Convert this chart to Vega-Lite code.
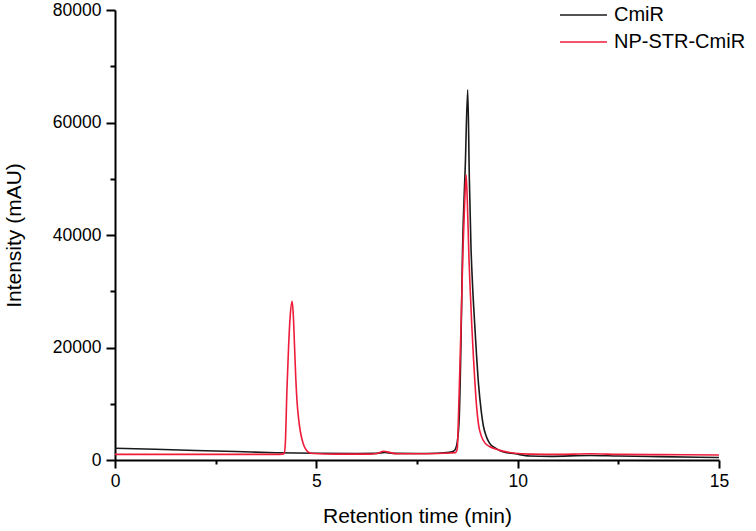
{
  "$schema": "https://vega.github.io/schema/vega-lite/v6.json",
  "width": 604,
  "height": 450,
  "autosize": {"type": "none"},
  "padding": {"left": 115, "top": 10, "right": 37, "bottom": 71},
  "background": "white",
  "config": {
    "view": {"stroke": null},
    "font": "Liberation Sans",
    "axis": {
      "grid": false,
      "domainColor": "#000000",
      "domainWidth": 2,
      "tickColor": "#000000",
      "tickWidth": 2,
      "labelColor": "#000000",
      "labelFont": "Liberation Sans",
      "labelFontSize": 17.5,
      "titleColor": "#000000",
      "titleFont": "Liberation Sans",
      "titleFontSize": 21,
      "titleFontWeight": "normal"
    }
  },
  "data": {
    "values": [
      {"t": 0, "y": 2100, "s": "CmiR"},
      {"t": 1, "y": 1900, "s": "CmiR"},
      {"t": 2, "y": 1700, "s": "CmiR"},
      {"t": 3, "y": 1500, "s": "CmiR"},
      {"t": 4, "y": 1300, "s": "CmiR"},
      {"t": 5, "y": 1200, "s": "CmiR"},
      {"t": 6, "y": 1150, "s": "CmiR"},
      {"t": 6.5, "y": 1180, "s": "CmiR"},
      {"t": 6.7, "y": 1350, "s": "CmiR"},
      {"t": 6.9, "y": 1180, "s": "CmiR"},
      {"t": 7.5, "y": 1150, "s": "CmiR"},
      {"t": 8.0, "y": 1200, "s": "CmiR"},
      {"t": 8.3, "y": 1350, "s": "CmiR"},
      {"t": 8.4, "y": 1550, "s": "CmiR"},
      {"t": 8.45, "y": 1900, "s": "CmiR"},
      {"t": 8.5, "y": 3200, "s": "CmiR"},
      {"t": 8.55, "y": 7700, "s": "CmiR"},
      {"t": 8.59, "y": 20000, "s": "CmiR"},
      {"t": 8.63, "y": 37000, "s": "CmiR"},
      {"t": 8.7, "y": 52500, "s": "CmiR"},
      {"t": 8.76, "y": 65800, "s": "CmiR"},
      {"t": 8.8, "y": 50000, "s": "CmiR"},
      {"t": 8.84, "y": 38000, "s": "CmiR"},
      {"t": 8.88, "y": 31000, "s": "CmiR"},
      {"t": 8.93, "y": 24500, "s": "CmiR"},
      {"t": 8.98, "y": 18500, "s": "CmiR"},
      {"t": 9.03, "y": 13300, "s": "CmiR"},
      {"t": 9.09, "y": 9000, "s": "CmiR"},
      {"t": 9.15, "y": 6000, "s": "CmiR"},
      {"t": 9.22, "y": 4200, "s": "CmiR"},
      {"t": 9.3, "y": 3000, "s": "CmiR"},
      {"t": 9.45, "y": 2100, "s": "CmiR"},
      {"t": 9.61, "y": 1500, "s": "CmiR"},
      {"t": 9.94, "y": 1100, "s": "CmiR"},
      {"t": 10.3, "y": 700, "s": "CmiR"},
      {"t": 10.8, "y": 650, "s": "CmiR"},
      {"t": 11.8, "y": 800, "s": "CmiR"},
      {"t": 12.5, "y": 700, "s": "CmiR"},
      {"t": 13.5, "y": 600, "s": "CmiR"},
      {"t": 14.5, "y": 500, "s": "CmiR"},
      {"t": 15, "y": 450, "s": "CmiR"},
      {"t": 0, "y": 1000, "s": "NP-STR-CmiR"},
      {"t": 1, "y": 1000, "s": "NP-STR-CmiR"},
      {"t": 2, "y": 1000, "s": "NP-STR-CmiR"},
      {"t": 3, "y": 1000, "s": "NP-STR-CmiR"},
      {"t": 4, "y": 1000, "s": "NP-STR-CmiR"},
      {"t": 4.15, "y": 1050, "s": "NP-STR-CmiR"},
      {"t": 4.2, "y": 1150, "s": "NP-STR-CmiR"},
      {"t": 4.23, "y": 3000, "s": "NP-STR-CmiR"},
      {"t": 4.27, "y": 12500, "s": "NP-STR-CmiR"},
      {"t": 4.31, "y": 20000, "s": "NP-STR-CmiR"},
      {"t": 4.35, "y": 25500, "s": "NP-STR-CmiR"},
      {"t": 4.4, "y": 28200, "s": "NP-STR-CmiR"},
      {"t": 4.43, "y": 25500, "s": "NP-STR-CmiR"},
      {"t": 4.46, "y": 20000, "s": "NP-STR-CmiR"},
      {"t": 4.49, "y": 14500, "s": "NP-STR-CmiR"},
      {"t": 4.52, "y": 10500, "s": "NP-STR-CmiR"},
      {"t": 4.56, "y": 7300, "s": "NP-STR-CmiR"},
      {"t": 4.6, "y": 5200, "s": "NP-STR-CmiR"},
      {"t": 4.65, "y": 3500, "s": "NP-STR-CmiR"},
      {"t": 4.7, "y": 2400, "s": "NP-STR-CmiR"},
      {"t": 4.76, "y": 1700, "s": "NP-STR-CmiR"},
      {"t": 4.83, "y": 1300, "s": "NP-STR-CmiR"},
      {"t": 4.93, "y": 1150, "s": "NP-STR-CmiR"},
      {"t": 5.5, "y": 1050, "s": "NP-STR-CmiR"},
      {"t": 6.3, "y": 1050, "s": "NP-STR-CmiR"},
      {"t": 6.5, "y": 1150, "s": "NP-STR-CmiR"},
      {"t": 6.67, "y": 1550, "s": "NP-STR-CmiR"},
      {"t": 6.85, "y": 1300, "s": "NP-STR-CmiR"},
      {"t": 7.0, "y": 1100, "s": "NP-STR-CmiR"},
      {"t": 7.5, "y": 1100, "s": "NP-STR-CmiR"},
      {"t": 8.0, "y": 1150, "s": "NP-STR-CmiR"},
      {"t": 8.33, "y": 1250, "s": "NP-STR-CmiR"},
      {"t": 8.45, "y": 1300, "s": "NP-STR-CmiR"},
      {"t": 8.5, "y": 2000, "s": "NP-STR-CmiR"},
      {"t": 8.53, "y": 7700, "s": "NP-STR-CmiR"},
      {"t": 8.6, "y": 25500, "s": "NP-STR-CmiR"},
      {"t": 8.64, "y": 37000, "s": "NP-STR-CmiR"},
      {"t": 8.68, "y": 45000, "s": "NP-STR-CmiR"},
      {"t": 8.72, "y": 50700, "s": "NP-STR-CmiR"},
      {"t": 8.75, "y": 46000, "s": "NP-STR-CmiR"},
      {"t": 8.79, "y": 36000, "s": "NP-STR-CmiR"},
      {"t": 8.82, "y": 30500, "s": "NP-STR-CmiR"},
      {"t": 8.86, "y": 24000, "s": "NP-STR-CmiR"},
      {"t": 8.9, "y": 18500, "s": "NP-STR-CmiR"},
      {"t": 8.94, "y": 13600, "s": "NP-STR-CmiR"},
      {"t": 8.98, "y": 9500, "s": "NP-STR-CmiR"},
      {"t": 9.03, "y": 6200, "s": "NP-STR-CmiR"},
      {"t": 9.1, "y": 4200, "s": "NP-STR-CmiR"},
      {"t": 9.19, "y": 3000, "s": "NP-STR-CmiR"},
      {"t": 9.3, "y": 2400, "s": "NP-STR-CmiR"},
      {"t": 9.52, "y": 1800, "s": "NP-STR-CmiR"},
      {"t": 9.94, "y": 1200, "s": "NP-STR-CmiR"},
      {"t": 10.3, "y": 1050, "s": "NP-STR-CmiR"},
      {"t": 11, "y": 1000, "s": "NP-STR-CmiR"},
      {"t": 11.8, "y": 1100, "s": "NP-STR-CmiR"},
      {"t": 12.5, "y": 1000, "s": "NP-STR-CmiR"},
      {"t": 13.5, "y": 950, "s": "NP-STR-CmiR"},
      {"t": 15, "y": 900, "s": "NP-STR-CmiR"}
    ]
  },
  "mark": {"type": "line", "interpolate": "monotone", "strokeWidth": 1.6},
  "encoding": {
    "x": {
      "field": "t",
      "type": "quantitative",
      "title": "Retention time (min)",
      "scale": {"domain": [0, 15], "nice": false, "zero": false},
      "axis": {
        "values": [0, 2.5, 5, 7.5, 10, 12.5, 15],
        "format": ".1~f",
        "labelExpr": "datum.value % 5 === 0 ? datum.label : ''",
        "tickSize": {"condition": {"test": "datum.value % 5 !== 0", "value": 4}, "value": 8},
        "labelPadding": 4,
        "titlePadding": 16,
        "labelFlush": false
      }
    },
    "y": {
      "field": "y",
      "type": "quantitative",
      "title": "Intensity (mAU)",
      "scale": {"domain": [0, 80000], "nice": false},
      "axis": {
        "values": [0, 10000, 20000, 30000, 40000, 50000, 60000, 70000, 80000],
        "format": "d",
        "labelExpr": "datum.value % 20000 === 0 ? datum.label : ''",
        "tickSize": {"condition": {"test": "datum.value % 20000 !== 0", "value": 5}, "value": 9},
        "labelPadding": 5,
        "titlePadding": 28,
        "labelFlush": false
      }
    },
    "color": {
      "field": "s",
      "type": "nominal",
      "scale": {"domain": ["CmiR", "NP-STR-CmiR"], "range": ["#1a1a1a", "#ee1c3a"]},
      "legend": {
        "title": null,
        "orient": "none",
        "legendX": 458.5,
        "legendY": -5,
        "padding": 0,
        "symbolType": "M-4.7,0H4.7",
        "symbolSize": 100,
        "symbolStrokeWidth": 1.6,
        "symbolFillColor": "transparent",
        "labelFont": "Liberation Sans",
        "labelFontSize": 20,
        "labelColor": "#000000",
        "labelOffset": 20.5,
        "rowPadding": 7
      }
    }
  }
}
